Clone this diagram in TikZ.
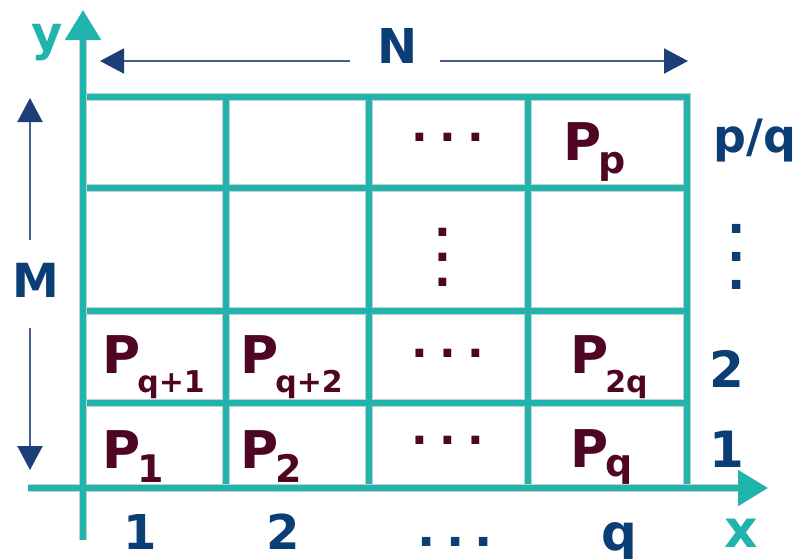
\documentclass[tikz,border=0pt]{standalone}
\usepackage{fontspec}
\setmainfont{DejaVu Sans}
\usetikzlibrary{arrows.meta}
\definecolor{gridteal}{RGB}{32,180,172}
\definecolor{gridedge}{RGB}{196,208,208}
\definecolor{labblue}{RGB}{12,62,118}
\definecolor{arrblue}{RGB}{30,62,120}
\definecolor{arrline}{RGB}{70,95,140}
\definecolor{maroon}{RGB}{78,6,36}
\newcommand{\psub}[3]{P\kern-3pt\raisebox{-#2pt}{\fontsize{#1pt}{#1pt}\selectfont #3}}
\newcommand{\hdotrow}[1]{.\hspace{#1}.\hspace{#1}.}
\newcommand{\vdotcol}[2]{.\llap{\raisebox{#1}{.}}\llap{\raisebox{#2}{.}}}
\begin{document}
\begin{tikzpicture}[x=1pt,y=-1pt,
  celltext/.style={anchor=base west, inner sep=0pt, text=maroon, font=\fontsize{52pt}{52pt}\selectfont\bfseries},
  bluelab/.style={anchor=base, inner sep=0pt, text=labblue, font=\fontsize{#1}{#1}\selectfont\bfseries},
  axislab/.style={anchor=base, inner sep=0pt, text=gridteal, font=\fontsize{#1}{#1}\selectfont\bfseries},
  dotlab/.style={anchor=base, inner sep=0pt, font=\fontsize{#1}{#1}\selectfont\bfseries},
  dimarrow/.style={draw=arrline, line width=2pt, -{Triangle[length=24pt,width=25pt,color=arrblue,fill=arrblue]}},
  axisarrow/.style={draw=gridteal, line width=5.5pt, -{Triangle[length=30pt,width=35pt]}},
]
\useasboundingbox (0,0) rectangle (799,558);

% axis end points
\coordinate (ybot) at (83,540);
\coordinate (ytop) at (83,10);
\coordinate (ybase) at (83,40);
\coordinate (xleft) at (28,488);
\coordinate (xright) at (768,488);
\coordinate (xbase) at (738,488);

% grid: grey outline pass, then teal pass
\foreach \col/\wd in {gridedge/7.5pt, gridteal/5.5pt} {
  \draw[draw=\col, line width=\wd] (83,97) rectangle (687,488);
  \draw[draw=\col, line width=\wd] (226,97) -- (226,488) (369,97) -- (369,488) (528,97) -- (528,488);
  \draw[draw=\col, line width=\wd] (83,188) -- (687,188) (83,311) -- (687,311) (83,403) -- (687,403);
}
\draw[draw=gridedge, line width=7.5pt] (ybot) -- (ybase);
\draw[draw=gridedge, line width=7.5pt] (xleft) -- (xbase);
\draw[axisarrow] (ybot) -- (ytop);
\draw[axisarrow] (xleft) -- (xright);

% axis labels
\node[axislab=48pt] (ylab) at (47,50) {y};
\node[axislab=52pt] (xlab) at (741,547) {x};

% N and M dimension arrows
\node[bluelab=48pt] (N) at (398,63) {N};
\coordinate (nl) at (100,61);
\coordinate (nr) at (688,61);
\draw[dimarrow] (N.west |- nl) ++(-28,0) -- (nl);
\draw[dimarrow] (N.east |- nr) ++(22,0) -- (nr);

\node[bluelab=47pt] (M) at (36,297) {M};
\coordinate (mt) at (30,98);
\coordinate (mb) at (30,470);
\draw[dimarrow] (mt |- M.north) ++(0,-23) -- (mt);
\draw[dimarrow] (mb |- M.south) ++(0,31) -- (mb);

% cell contents
\node[celltext] (pp) at (563,160) {\psub{38}{13}{p}};
\node[celltext] (pq1) at (102,373) {\psub{30}{19}{q+1}};
\node[celltext] (pq2) at (240,373) {\psub{30}{19}{q+2}};
\node[celltext] (p2q) at (570,373) {\psub{30}{19}{2q}};
\node[celltext] (p1) at (102,468) {\psub{38}{14}{1}};
\node[celltext] (p2) at (240,468) {\psub{38}{14}{2}};
\node[celltext] (pqq) at (570,467) {\psub{38}{9}{q}};

\node[dotlab=44pt, text=maroon] (d1) at (448,141.5) {\hdotrow{11.5pt}};
\node[dotlab=44pt, text=maroon] (d3) at (448,357.5) {\hdotrow{11.5pt}};
\node[dotlab=44pt, text=maroon] (d4) at (448,444.5) {\hdotrow{11.5pt}};
\node[dotlab=44pt, text=maroon] (d2) at (443,286.5) {\vdotcol{25pt}{50pt}};

% row labels
\node[bluelab=46pt] (rpq) at (755,152) {p/q};
\node[dotlab=48pt, text=labblue] (rdots) at (737,289) {\vdotcol{28pt}{56pt}};
\node[bluelab=50pt] (r2) at (727,387) {2};
\node[bluelab=50pt] (r1) at (727,467) {1};

% column labels
\node[bluelab=48pt] (c1) at (140,549) {1};
\node[bluelab=48pt] (c2) at (283,549) {2};
\node[dotlab=48pt, text=labblue] (cdots) at (455.5,546) {\hdotrow{10.3pt}};
\node[bluelab=50pt] (cq) at (619,550) {q};
\end{tikzpicture}
\end{document}
